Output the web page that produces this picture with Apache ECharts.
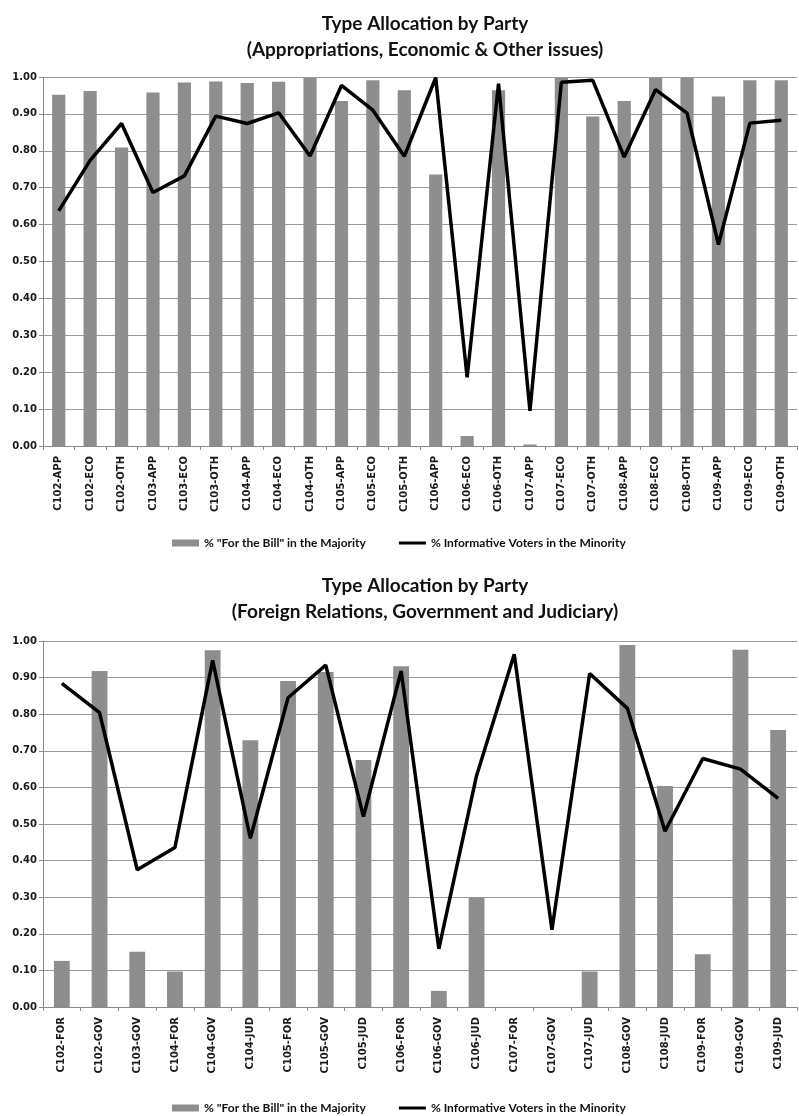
<!DOCTYPE html>
<html>
<head>
<meta charset="utf-8">
<title>Type Allocation by Party</title>
<script src="https://cdn.jsdelivr.net/npm/echarts@6/dist/echarts.min.js"></script>
<style>
  html, body { margin: 0; padding: 0; background: #fff; }
  #chart { width: 799px; height: 1116px; }
</style>
</head>
<body>
<div id="chart"></div>
<script>
// top chart: appropriations, economic & other issues
var topCats = ['C102-APP', 'C102-ECO', 'C102-OTH', 'C103-APP', 'C103-ECO', 'C103-OTH',
  'C104-APP', 'C104-ECO', 'C104-OTH', 'C105-APP', 'C105-ECO', 'C105-OTH',
  'C106-APP', 'C106-ECO', 'C106-OTH', 'C107-APP', 'C107-ECO', 'C107-OTH',
  'C108-APP', 'C108-ECO', 'C108-OTH', 'C109-APP', 'C109-ECO', 'C109-OTH'];
var topForBill = [0.952, 0.962, 0.809, 0.958, 0.985, 0.988, 0.984, 0.987, 0.998, 0.935, 0.991, 0.964,
  0.736, 0.027, 0.964, 0.004, 0.998, 0.893, 0.935, 0.998, 0.998, 0.947, 0.991, 0.991];
var topInformative = [0.637, 0.774, 0.874, 0.687, 0.732, 0.894, 0.874, 0.903, 0.786, 0.977, 0.910, 0.785,
  0.998, 0.186, 0.982, 0.095, 0.986, 0.991, 0.783, 0.966, 0.902, 0.546, 0.875, 0.883];

// bottom chart: foreign relations, government and judiciary
var bottomCats = ['C102-FOR', 'C102-GOV', 'C103-GOV', 'C104-FOR', 'C104-GOV', 'C104-JUD',
  'C105-FOR', 'C105-GOV', 'C105-JUD', 'C106-FOR', 'C106-GOV', 'C106-JUD',
  'C107-FOR', 'C107-GOV', 'C107-JUD', 'C108-GOV', 'C108-JUD', 'C109-FOR', 'C109-GOV', 'C109-JUD'];
var bottomForBill = [0.126, 0.918, 0.151, 0.097, 0.975, 0.729, 0.891, 0.915, 0.675, 0.931,
  0.044, 0.300, 0, 0, 0.097, 0.989, 0.604, 0.144, 0.976, 0.757];
var bottomInformative = [0.884, 0.804, 0.375, 0.436, 0.947, 0.461, 0.845, 0.934, 0.520, 0.918,
  0.159, 0.632, 0.964, 0.211, 0.911, 0.816, 0.480, 0.679, 0.650, 0.570];

var yTicks = [0, 0.1, 0.2, 0.3, 0.4, 0.5, 0.6, 0.7, 0.8, 0.9, 1.0];

var barName = '% "For the Bill" in the Majority';
var lineName = '% Informative Voters in the Minority';

var axisFont = 'DejaVu Sans';
var textFont = 'Lato';

// thin black bar for the line legend (tiny corner specks keep the box 27x7)
var lineIcon = 'path://M0,0h0.05v0.05h-0.05z M0,2H27V5H0Z M26.95,6.95h0.05v0.05h-0.05z';

function xAxis(idx, cats) {
  return {
    type: 'category',
    gridIndex: idx,
    data: cats,
    axisLine: { lineStyle: { color: '#8a8a8a', width: 1 } },
    axisTick: { show: true, length: 4, lineStyle: { color: '#8a8a8a' } },
    axisLabel: {
      interval: 0, rotate: 90, margin: 10,
      color: '#1a1a1a', fontFamily: axisFont, fontWeight: 'bold', fontSize: 10
    }
  };
}

function yAxis(idx) {
  return {
    type: 'value',
    gridIndex: idx,
    min: yTicks[0], max: yTicks[yTicks.length - 1], interval: 0.1,
    axisLine: { show: true, lineStyle: { color: '#8a8a8a', width: 1 } },
    axisTick: { show: true, length: 4, lineStyle: { color: '#8a8a8a' } },
    splitLine: { lineStyle: { color: '#9a9a9a', width: 1 } },
    axisLabel: {
      margin: 6, color: '#1a1a1a', fontFamily: axisFont, fontWeight: 'bold', fontSize: 10,
      formatter: function (v) { return v.toFixed(2); }
    }
  };
}

function bars(idx, values) {
  return {
    name: barName, type: 'bar', xAxisIndex: idx, yAxisIndex: idx,
    data: values, barWidth: '42%',
    itemStyle: { color: '#8e8e8e' }
  };
}

function line(idx, values) {
  return {
    name: lineName, type: 'line', xAxisIndex: idx, yAxisIndex: idx,
    data: values, symbol: 'none',
    lineStyle: { color: '#000', width: 3.5 },
    itemStyle: { color: '#000' }
  };
}

function legend(top) {
  return {
    top: top, left: 172, padding: 0, itemWidth: 27, itemHeight: 7, itemGap: 33,
    data: [{ name: barName, icon: 'rect' }, { name: lineName, icon: lineIcon }],
    textStyle: { fontFamily: textFont, fontWeight: 'bold', fontSize: 12, color: '#111' }
  };
}

function title(top, text) {
  return {
    text: text, left: 420, top: top, textAlign: 'center',
    textStyle: { fontFamily: textFont, fontWeight: 'bold', fontSize: 19, lineHeight: 26, color: '#111' }
  };
}

var chart = echarts.init(document.getElementById('chart'));
chart.setOption({
  backgroundColor: '#fff',
  animation: false,
  title: [
    title(6, 'Type Allocation by Party\n(Appropriations, Economic & Other issues)'),
    title(568, 'Type Allocation by Party\n(Foreign Relations, Government and Judiciary)')
  ],
  legend: [legend(537), legend(1102)],
  grid: [
    { left: 43, right: 2, top: 77, height: 369 },
    { left: 43, right: 2, top: 641, height: 366 }
  ],
  xAxis: [xAxis(0, topCats), xAxis(1, bottomCats)],
  yAxis: [yAxis(0), yAxis(1)],
  series: [
    bars(0, topForBill), line(0, topInformative),
    bars(1, bottomForBill), line(1, bottomInformative)
  ]
});
</script>
</body>
</html>
